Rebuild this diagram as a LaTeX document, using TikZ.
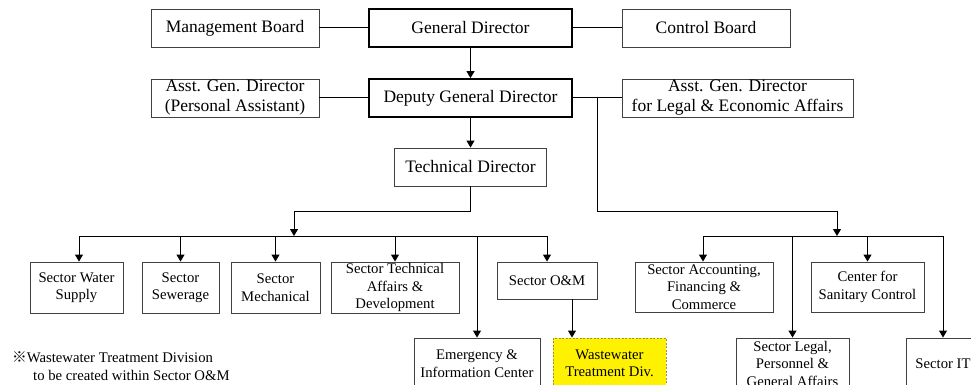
\documentclass[tikz,border=0pt]{standalone}
\usepackage{fontspec}
\setmainfont{Liberation Serif}
\newfontfamily\cjk{Noto Sans CJK JP}
\usetikzlibrary{arrows.meta}
\begin{document}
\begin{tikzpicture}[x=1pt,y=-1pt,
  box/.style={draw=black!75, line width=0.9pt, rectangle, inner sep=0pt,
    align=center, font=\fontsize{17.5}{20}\selectfont},
  headbox/.style={box, draw=black, line width=1.8pt},
  unit/.style={draw=black!75, line width=0.9pt, rectangle, inner sep=0pt,
    align=center, font=\fontsize{14.7}{17.5}\selectfont},
  newunit/.style={unit, fill=yellow, draw=yellow!55!black, dash pattern=on 2pt off 1.5pt},
  link/.style={line width=1pt, draw=black},
  arr/.style={link, -{Triangle[length=7pt,width=8pt]}},
  notetext/.style={anchor=base west, inner sep=0pt, font=\fontsize{14.7}{18}\selectfont},
]
\useasboundingbox (0,0) rectangle (971,385);
\clip (0,0) rectangle (971,385);

% top management
\node[box, minimum width=168pt, minimum height=38pt] (mb) at (235,28) {Management Board};
\node[headbox, minimum width=203pt, minimum height=38pt] (gd) at (470.5,28) {General Director};
\node[box, minimum width=168pt, minimum height=38pt] (cb) at (706,28) {Control Board};

\node[box, minimum width=168pt, minimum height=38pt] (pa) at (235,98) {Asst. Gen. Director\\(Personal Assistant)};
\node[headbox, minimum width=203pt, minimum height=38pt] (dgd) at (470.5,98) {Deputy General Director};
\node[box, minimum width=231pt, minimum height=38pt] (la) at (737.5,98) {Asst. Gen. Director\\for Legal \& Economic Affairs};

\node[box, minimum width=152pt, minimum height=38pt] (td) at (470.5,167) {Technical Director};

% technical sectors
\node[unit, minimum width=93pt, minimum height=51pt] (water) at (76.5,287.5) {Sector Water\\Supply};
\node[unit, minimum width=77pt, minimum height=51pt] (sew) at (180.5,287.5) {Sector\\Sewerage};
\node[unit, minimum width=89pt, minimum height=51pt] (mech) at (275.5,287.5) {Sector\\Mechanical};
\node[unit, minimum width=128pt, minimum height=51pt] (tech) at (395,287.5) {Sector Technical\\Affairs \&\\Development};
\node[unit, minimum width=100pt, minimum height=37pt] (om) at (547,280.5) {Sector O\&M};
\node[unit, minimum width=126pt, minimum height=51pt] (emerg) at (477,363.5) {Emergency \&\\Information Center};
\node[newunit, minimum width=113pt, minimum height=51pt] (ww) at (609.5,363.5) {Wastewater\\Treatment Div.};

% legal and economic sectors
\node[unit, minimum width=138pt, minimum height=50pt] (acct) at (704,287) {Sector Accounting,\\Financing \&\\Commerce};
\node[unit, minimum width=113pt, minimum height=50pt] (sanit) at (867.5,287) {Center for\\Sanitary Control};
\node[unit, minimum width=113pt, minimum height=51pt] (legal) at (792.5,363.5) {Sector Legal,\\Personnel \&\\General Affairs};
\node[unit, minimum width=74pt, minimum height=51pt] (it) at (943,363.5) {Sector IT};

% note
\node[notetext] (note1) at (12,362) {{\cjk ※}Wastewater Treatment Division};
\node[notetext] (note2) at (33,380) {to be created within Sector O\&M};

% connectors, upper part
\draw[link] (mb) -- (gd);
\draw[link] (gd) -- (cb);
\draw[arr] (gd) -- (dgd);
\draw[link] (pa) -- (dgd);
\draw[link] (dgd) -- (la);
\draw[arr] (dgd) -- (td);

% technical bus
\coordinate (lj) at (294,211);
\coordinate (lbus) at (294,236);
\draw[arr] (td.south) |- (lj) -- (lbus);
\coordinate (b1) at (79,236);
\coordinate (b2) at (180.5,236);
\coordinate (b3) at (275.5,236);
\coordinate (b4) at (395,236);
\coordinate (b5) at (477,236);
\coordinate (b6) at (547,236);
\draw[link] (b1) -- (b6);
\draw[arr] (b1) -- (b1 |- water.north);
\draw[arr] (b2) -- (sew);
\draw[arr] (b3) -- (mech);
\draw[arr] (b4) -- (tech);
\draw[arr] (b5) -- (emerg);
\draw[arr] (b6) -- (om);
\coordinate (omx) at (572,0);
\draw[arr] (om.south -| omx) -- (ww.north -| omx);

% legal and economic bus
\coordinate (rb) at (597,98);
\coordinate (rj) at (837,211);
\coordinate (rbus) at (837,236);
\draw[arr] (rb) |- (rj) -- (rbus);
\coordinate (c1) at (703,236);
\coordinate (c2) at (792.5,236);
\coordinate (c3) at (867.5,236);
\coordinate (c4) at (943,236);
\draw[link] (c1) -- (c4);
\draw[arr] (c1) -- (c1 |- acct.north);
\draw[arr] (c2) -- (legal);
\draw[arr] (c3) -- (sanit);
\draw[arr] (c4) -- (it);
\end{tikzpicture}
\end{document}
